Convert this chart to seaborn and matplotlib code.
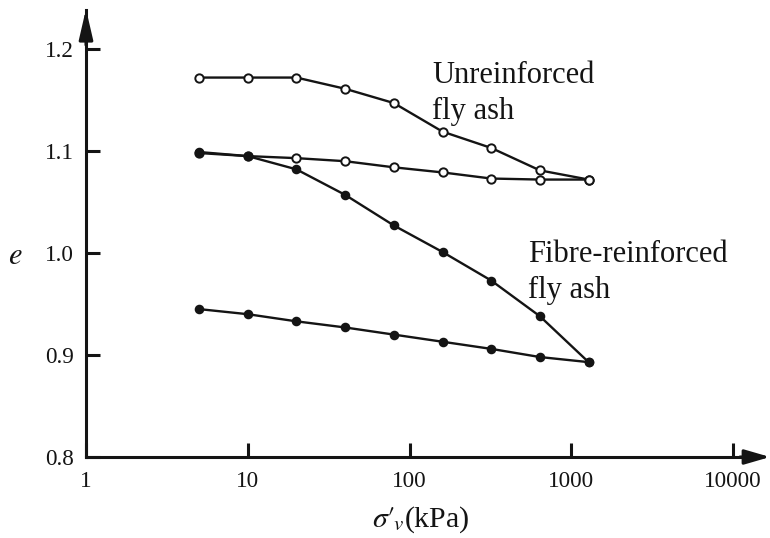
import numpy as np
import pandas as pd
import matplotlib
matplotlib.use("Agg")
import matplotlib.pyplot as plt
import seaborn as sns

# Vertical effective stress (kPa) at each load step
stress = [5, 10, 20, 40, 80, 160, 320, 640, 1280]

# Void ratio e, loading and unloading branches
unreinforced_loading = [1.172, 1.172, 1.172, 1.161, 1.147, 1.119, 1.103, 1.081, 1.072]
unreinforced_unloading = [1.098, 1.095, 1.093, 1.090, 1.084, 1.079, 1.073, 1.072, 1.072]
fibre_loading = [1.099, 1.095, 1.082, 1.057, 1.027, 1.001, 0.973, 0.938, 0.893]
fibre_unloading = [0.945, 0.940, 0.933, 0.927, 0.920, 0.913, 0.906, 0.898, 0.893]

x_ticks = [1, 10, 100, 1000, 10000]
x_tick_labels = ["1", "10", "100", "1000", "10000"]
y_ticks = [0.8, 0.9, 1.0, 1.1, 1.2]
y_tick_labels = ["0.8", "0.9", "1.0", "1.1", "1.2"]

sns.set_style("white")
plt.rcParams["font.family"] = ["Liberation Serif", "DejaVu Serif"]
plt.rcParams["mathtext.fontset"] = "stix"

INK = "#141414"
W, H = 770, 538


def fx(px):
    return px / W


def fy(py):
    return 1 - py / H


# axes frame in pixels: left spine x=86, bottom spine y=457
X0, X1, Y0, Y1 = 86, 760, 457, 10
DECADE = 161.75   # pixels per decade on the stress axis
TENTH = 1020      # pixels per unit of void ratio

fig = plt.figure(figsize=(7.7, 5.38), dpi=100)
ax = fig.add_axes([fx(X0), fy(Y0), (X1 - X0) / W, (Y0 - Y1) / H])

curves = [
    (unreinforced_loading, "open"),
    (unreinforced_unloading, "open"),
    (fibre_unloading, "filled"),
    (fibre_loading, "filled"),
]
for values, style in curves:
    df = pd.DataFrame({"stress": stress, "e": values})
    face = "white" if style == "open" else INK
    size = 6 if style == "open" else 5.5
    sns.lineplot(data=df, x="stress", y="e", ax=ax, color=INK, lw=1.7,
                 marker="o", markersize=size, markerfacecolor=face,
                 markeredgecolor=INK, markeredgewidth=1.4, zorder=3)

ax.set_xscale("log")
ax.set_xlim(1, 10 ** ((X1 - X0) / DECADE))
ax.set_ylim(0.8, 0.8 + (Y0 - Y1) / TENTH)

ax.set_xticks(x_ticks)
ax.set_xticklabels(x_tick_labels)
ax.set_yticks(y_ticks)
ax.set_yticklabels(y_tick_labels)
ax.minorticks_off()
ax.tick_params(axis="both", which="major", direction="in", length=10, width=2.2,
               color=INK, labelsize=16.7, labelcolor=INK, bottom=True, left=True)
ax.tick_params(axis="x", pad=10)
ax.tick_params(axis="y", pad=9)

for side in ["top", "right"]:
    ax.spines[side].set_visible(False)
for side in ["left", "bottom"]:
    ax.spines[side].set_linewidth(2.2)
    ax.spines[side].set_color(INK)

# Arrow heads on the axes
ax.annotate("", xy=(fx(770), fy(Y0)), xytext=(fx(740), fy(Y0)),
            xycoords="figure fraction", textcoords="figure fraction",
            arrowprops=dict(arrowstyle="-|>,head_length=1.1,head_width=0.32",
                            mutation_scale=14, lw=2.2, color=INK,
                            shrinkA=0, shrinkB=0))
ax.annotate("", xy=(fx(X0), fy(9)), xytext=(fx(X0), fy(45)),
            xycoords="figure fraction", textcoords="figure fraction",
            arrowprops=dict(arrowstyle="-|>,head_length=1.3,head_width=0.3",
                            mutation_scale=14, lw=2.2, color=INK,
                            shrinkA=0, shrinkB=0))

ax.set_xlabel("")
ax.set_ylabel("")
fig.text(fx(421), fy(527), r"$\sigma\prime_{\!v}$(kPa)", ha="center", va="baseline",
         fontsize=21.5, color=INK)
fig.text(fx(15), fy(264), r"$e$", ha="center", va="baseline",
         fontsize=22, color=INK)

# Curve labels
fig.text(fx(432), fy(83), "Unreinforced", fontsize=22, color=INK,
         ha="left", va="baseline")
fig.text(fx(432), fy(119), "fly ash", fontsize=22, color=INK,
         ha="left", va="baseline")
fig.text(fx(528), fy(262), "Fibre-reinforced", fontsize=22, color=INK,
         ha="left", va="baseline")
fig.text(fx(528), fy(298), "fly ash", fontsize=22, color=INK,
         ha="left", va="baseline")

fig.savefig("out.png", dpi=100)
